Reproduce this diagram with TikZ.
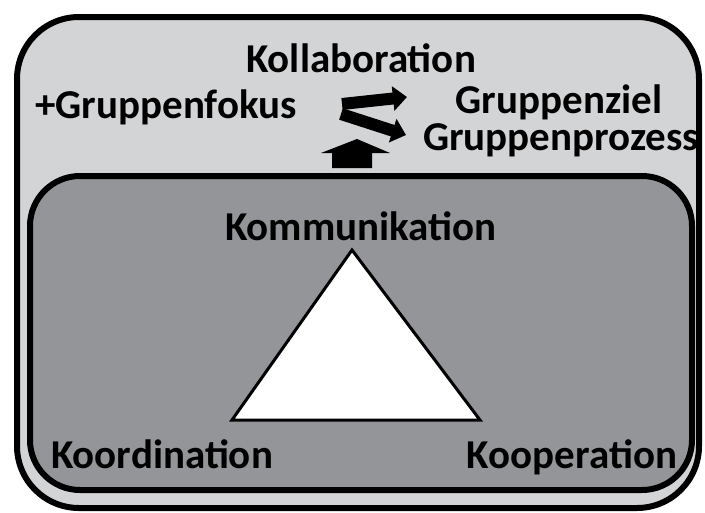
\documentclass[tikz,border=0pt]{standalone}
\usepackage{fontspec}
\setmainfont{Carlito}
\usetikzlibrary{arrows.meta}
\definecolor{outerfill}{RGB}{211,212,214}
\definecolor{innerfill}{RGB}{147,149,152}
\tikzset{
  label/.style={font=\bfseries\fontsize{41}{48}\selectfont, inner sep=0pt, anchor=base},
  box/.style={draw=black, line width=6pt},
  flow/.style={line width=12pt, -{Triangle[length=14pt,width=24pt]}, shorten >=0pt},
}
\begin{document}
\begin{tikzpicture}[x=1pt,y=-1pt]
  \useasboundingbox (0,0) rectangle (705,512);
  % group layer
  \draw[box, fill=outerfill, rounded corners=62pt] (17,17) rectangle (699,508);
  % team layer
  \draw[box, fill=innerfill, rounded corners=50pt] (30,176) rectangle (692,490);
  % the 3C triangle
  \draw[line width=3pt, fill=white, line join=miter]
    (352,250) -- (480,420) -- (232,420) -- cycle;

  \node[label] (kollab)  at (361,72)  {Kollaboration};
  \node[label] (fokus)   at (166,118) {+Gruppenfokus};
  \node[label] (ziel)    at (559,113) {Gruppenziel};
  \node[label] (prozess) at (561,150) {Gruppenprozess};
  \node[label] (komm)    at (361,240) {Kommunikation};
  \node[label] (koord)   at (162,468) {Koordination};
  \node[label] (koop)    at (572,468) {Kooperation};

  % arrows between the layers
  \coordinate (a1s) at (342,104);
  \coordinate (a1e) at (407,97);
  \coordinate (a2s) at (341,114);
  \coordinate (a2e) at (406,135);
  \draw[flow] (a1s) -- (a1e);
  \draw[flow] (a2s) -- (a2e);
  \coordinate (up) at (352,168);
  \fill (up) ++(-20,0) -- ++(0,-15) -- ++(-11,0) -- (357,139) -- (390,153) -- ++(-18,0) -- ++(0,15) -- cycle;
\end{tikzpicture}
\end{document}
